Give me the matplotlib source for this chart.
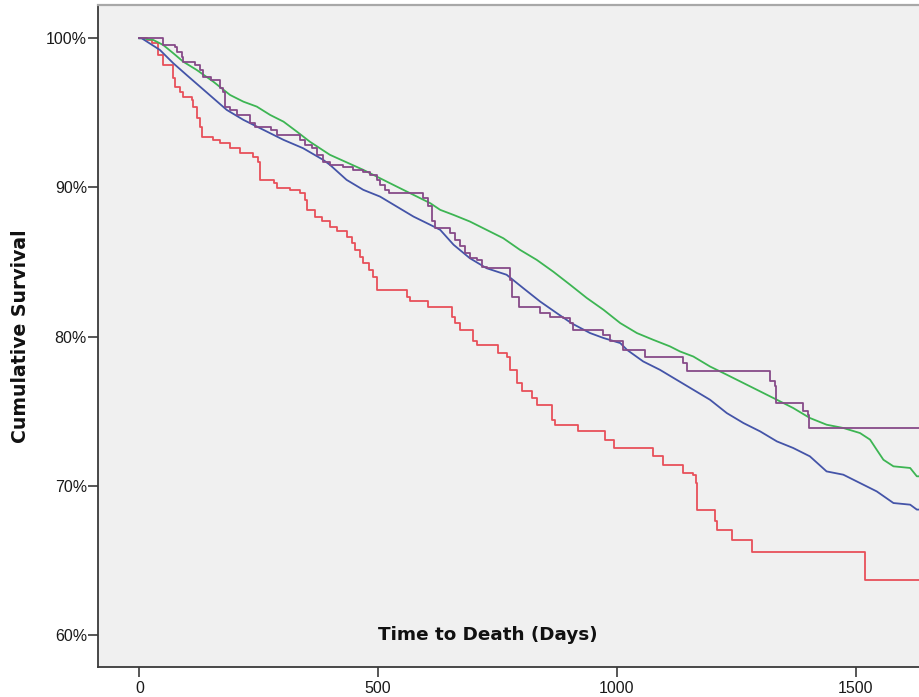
import matplotlib
matplotlib.use("Agg")
import matplotlib.pyplot as plt
from matplotlib.ticker import FuncFormatter

# Kaplan-Meier estimates: time (days) and cumulative survival (%)
red_days = [0, 16, 26, 40, 50, 71, 75, 85, 92, 110, 113, 120, 127, 131, 155, 169, 190, 211,
            239, 249, 253, 281, 288, 316, 337, 347, 351, 368, 382, 399, 413, 434, 445, 452,
            462, 469, 480, 490, 497, 560, 567, 605, 654, 661, 672, 699, 706, 752, 769, 776,
            790, 801, 822, 832, 864, 870, 919, 975, 993, 1076, 1097, 1139, 1160, 1166, 1168,
            1205, 1209, 1240, 1282, 1520, 1640]
red_surv = [100.0, 99.89, 99.67, 98.88, 98.21, 97.32, 96.76, 96.42, 96.09, 95.87, 95.42, 94.64,
            94.08, 93.41, 93.19, 92.97, 92.63, 92.30, 92.07, 91.73, 90.51, 90.29, 89.95, 89.84,
            89.62, 89.17, 88.50, 88.05, 87.72, 87.38, 87.05, 86.71, 86.27, 85.82, 85.37, 84.93,
            84.48, 84.03, 83.14, 82.69, 82.36, 82.02, 81.35, 80.91, 80.46, 79.68, 79.46, 78.90,
            78.67, 77.78, 76.89, 76.33, 75.89, 75.44, 74.43, 74.10, 73.65, 73.10, 72.54, 71.98,
            71.42, 70.86, 70.75, 70.20, 68.35, 67.62, 67.07, 66.40, 65.60, 63.70, 63.70]

purple_days = [0, 50, 75, 78, 89, 92, 117, 127, 134, 151, 169, 176, 179, 190, 204, 232, 242,
               275, 288, 336, 347, 361, 371, 385, 399, 427, 448, 469, 483, 497, 504, 515, 522,
               594, 605, 612, 619, 650, 661, 671, 682, 692, 706, 717, 727, 776, 780, 794, 839,
               860, 888, 902, 909, 971, 985, 1013, 1059, 1139, 1146, 1320, 1331, 1334, 1390,
               1401, 1403, 1640]
purple_surv = [100.0, 99.55, 99.40, 99.10, 98.76, 98.43, 98.20, 97.88, 97.43, 97.20, 96.66,
               96.43, 95.42, 95.20, 94.86, 94.30, 94.08, 93.86, 93.52, 93.19, 92.86, 92.63,
               92.19, 91.74, 91.52, 91.40, 91.18, 91.07, 90.84, 90.51, 90.18, 89.84, 89.62,
               89.28, 88.73, 87.72, 87.27, 86.94, 86.50, 86.05, 85.60, 85.26, 85.15, 84.70,
               84.59, 83.81, 82.69, 82.02, 81.58, 81.35, 81.24, 80.91, 80.46, 80.13, 79.68,
               79.12, 78.67, 78.22, 77.67, 77.00, 76.67, 75.55, 74.99, 74.77, 73.88, 73.88]

blue_days = [0, 5, 43, 71, 99, 127, 155, 183, 218, 260, 302, 343, 385, 399, 434, 469, 504,
             539, 574, 609, 630, 658, 692, 727, 769, 804, 839, 874, 905, 944, 972, 1007, 1021,
             1055, 1090, 1125, 1160, 1195, 1230, 1265, 1300, 1335, 1369, 1404, 1439, 1474,
             1509, 1544, 1579, 1614, 1628, 1640]
blue_surv = [100.0, 100.0, 99.22, 98.33, 97.54, 96.76, 95.98, 95.20, 94.53, 93.86, 93.19,
             92.63, 91.85, 91.52, 90.51, 89.84, 89.39, 88.72, 88.05, 87.50, 87.16, 86.16,
             85.26, 84.59, 84.15, 83.25, 82.36, 81.58, 80.90, 80.24, 79.91, 79.57, 79.12,
             78.34, 77.78, 77.11, 76.44, 75.77, 74.88, 74.21, 73.65, 72.98, 72.54, 71.98,
             70.97, 70.75, 70.19, 69.63, 68.85, 68.74, 68.41, 68.41]

green_days = [0, 5, 29, 50, 71, 92, 120, 155, 190, 218, 246, 274, 302, 330, 357, 399, 469,
              539, 609, 630, 658, 692, 727, 762, 797, 832, 867, 902, 937, 972, 1007, 1042,
              1076, 1111, 1132, 1160, 1195, 1230, 1265, 1300, 1335, 1369, 1404, 1439, 1474,
              1509, 1530, 1544, 1558, 1579, 1614, 1628, 1640]
green_surv = [100.0, 100.0, 99.89, 99.55, 99.00, 98.43, 97.88, 97.09, 96.20, 95.75, 95.42,
              94.86, 94.41, 93.74, 93.07, 92.19, 91.18, 90.06, 88.95, 88.50, 88.16, 87.72,
              87.16, 86.60, 85.82, 85.15, 84.35, 83.48, 82.59, 81.80, 80.91, 80.24, 79.79,
              79.35, 79.01, 78.67, 78.00, 77.45, 76.89, 76.33, 75.77, 75.22, 74.55, 74.10,
              73.88, 73.54, 73.10, 72.42, 71.75, 71.31, 71.20, 70.64, 70.64]

y_ticks = [60, 70, 80, 90, 100]
x_ticks = [0, 500, 1000, 1500]

W, H = 919, 697
fig = plt.figure(figsize=(W / 100, H / 100), dpi=100)
fig.patch.set_facecolor("white")

# plot frame: left edge at x=98 px, top at y=5 px, bottom at y=667 px, running off the right edge
ax = fig.add_axes([98 / W, 30 / H, (W - 98) / W + 0.02, 662 / H])
ax.set_facecolor("#F0F0F0")
ax.set_xlim(-86.5, 1632.5 + 0.02 * W / 0.4776)
ax.set_ylim(57.86, 102.23)

lw = 1.3
ax.plot(green_days, green_surv, color="#3DB553", lw=lw, zorder=3)
ax.plot(blue_days, blue_surv, color="#4454A8", lw=lw, zorder=4)
ax.step(purple_days, purple_surv, where="post", color="#864A88", lw=lw, zorder=5)
ax.step(red_days, red_surv, where="post", color="#E8505A", lw=lw, zorder=2)

for side in ("left", "bottom"):
    ax.spines[side].set_color("#3A3A3A")
    ax.spines[side].set_linewidth(1.3)
ax.spines["right"].set_visible(False)
ax.spines["top"].set_color("#A8A8A8")
ax.spines["top"].set_linewidth(1.6)

ax.set_yticks(y_ticks)
ax.yaxis.set_major_formatter(FuncFormatter(lambda v, p: f"{v:.0f}%"))
ax.set_xticks(x_ticks)
ax.tick_params(axis="y", direction="out", length=7, width=1.2, color="#3A3A3A",
               labelsize=11.5, pad=1, labelcolor="#1A1A1A")
ax.tick_params(axis="x", direction="out", length=7, width=1.2, color="#3A3A3A",
               labelsize=11.5, pad=3, labelcolor="#1A1A1A")
for lab in ax.get_xticklabels() + ax.get_yticklabels():
    lab.set_family("Liberation Sans")

fig.text(487.5 / W, 1 - 635 / H, "Time to Death (Days)", ha="center", va="center",
         fontsize=13.2, fontweight="bold", family="DejaVu Sans", color="#111111")
fig.text(21 / W, 1 - 336.5 / H, "Cumulative Survival", ha="center", va="center",
         rotation=90, fontsize=13.6, fontweight="bold", family="DejaVu Sans", color="#111111")

fig.savefig("out.png", dpi=100)
